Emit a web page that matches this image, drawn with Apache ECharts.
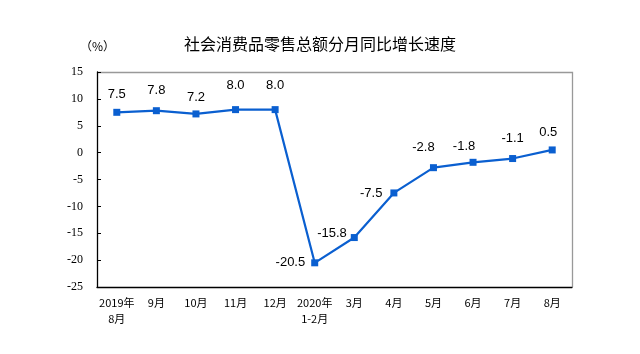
<!DOCTYPE html>
<html><head><meta charset="utf-8">
<script src="https://cdn.jsdelivr.net/npm/echarts@6/dist/echarts.min.js"></script>
<style>html,body{margin:0;padding:0;background:#fff}#c{width:640px;height:354px}</style>
</head><body><div id="c"></div>
<script>
var categories = ['2019年\n8月','9月','10月','11月','12月','2020年\n1-2月','3月','4月','5月','6月','7月','8月'];
var growth = [7.5, 7.8, 7.2, 8.0, 8.0, -20.5, -15.8, -7.5, -2.8, -1.8, -1.1, 0.5];
var yTicks = [-25, -20, -15, -10, -5, 0, 5, 10, 15];

// label placement style per point index
var labelStyle = {
  0: {position: 'top', distance: 8},
  1: {position: 'top', distance: 10},
  2: {position: 'top', distance: 7},
  3: {position: 'top', distance: 14},
  4: {position: 'top', distance: 14},
  5: {position: 'left', distance: 6},
  6: {position: 'left', distance: 4, offset: [0, -4]},
  7: {position: 'left', distance: 8},
  8: {position: 'top', distance: 10, offset: [-10, 0]},
  9: {position: 'top', distance: 6, offset: [-9, 0]},
  10: {position: 'top', distance: 10},
  11: {position: 'top', distance: 8, offset: [-4, 0]}
};

var data = growth.map(function (v, i) {
  return {value: v, label: labelStyle[i]};
});

var chart = echarts.init(document.getElementById('c'));
chart.setOption({
  animation: false,
  title: {
    text: '社会消费品零售总额分月同比增长速度',
    left: 'center', top: 31,
    textStyle: {fontFamily: 'Noto Sans CJK SC', fontSize: 16, fontWeight: 'normal', color: '#000'}
  },
  graphic: [{
    type: 'text', left: 80, top: 40,
    style: {text: '（%）', font: '12px "Noto Sans CJK SC"', fill: '#000'}
  }, {
    type: 'polyline', silent: true,
    shape: {points: [[97, 72.5], [572.5, 72.5], [572.5, 287]]},
    style: {stroke: '#999', lineWidth: 1.3, fill: null}
  }],
  grid: {left: 97, right: 68, top: 72, bottom: 67},
  xAxis: {
    type: 'category', data: categories, boundaryGap: true,
    axisLine: {onZero: false, lineStyle: {color: '#000', width: 1.3}},
    axisTick: {inside: true, length: 4, lineStyle: {color: '#000'}},
    axisLabel: {fontFamily: 'Noto Sans CJK SC', fontSize: 11, color: '#000', margin: 8, lineHeight: 16, interval: 0}
  },
  yAxis: {
    type: 'value', min: -25, max: 15, interval: 5,
    axisLine: {show: true, lineStyle: {color: '#000', width: 1.3}},
    axisTick: {show: true, inside: true, length: 4, lineStyle: {color: '#000'}},
    splitLine: {show: false},
    axisLabel: {fontFamily: 'Liberation Serif', fontSize: 12, color: '#000', margin: 14,
      formatter: function (v) { return yTicks.indexOf(v) >= 0 ? String(v) : ''; }}
  },
  series: [{
    type: 'line', data: data,
    symbol: 'rect', symbolSize: 7,
    lineStyle: {color: '#0a5fd0', width: 2.2},
    itemStyle: {color: '#0a5fd0'},
    label: {show: true, fontFamily: 'Liberation Sans', fontSize: 13, color: '#000',
      formatter: function (p) { return p.value.toFixed(1); }}
  }]
});
</script></body></html>
